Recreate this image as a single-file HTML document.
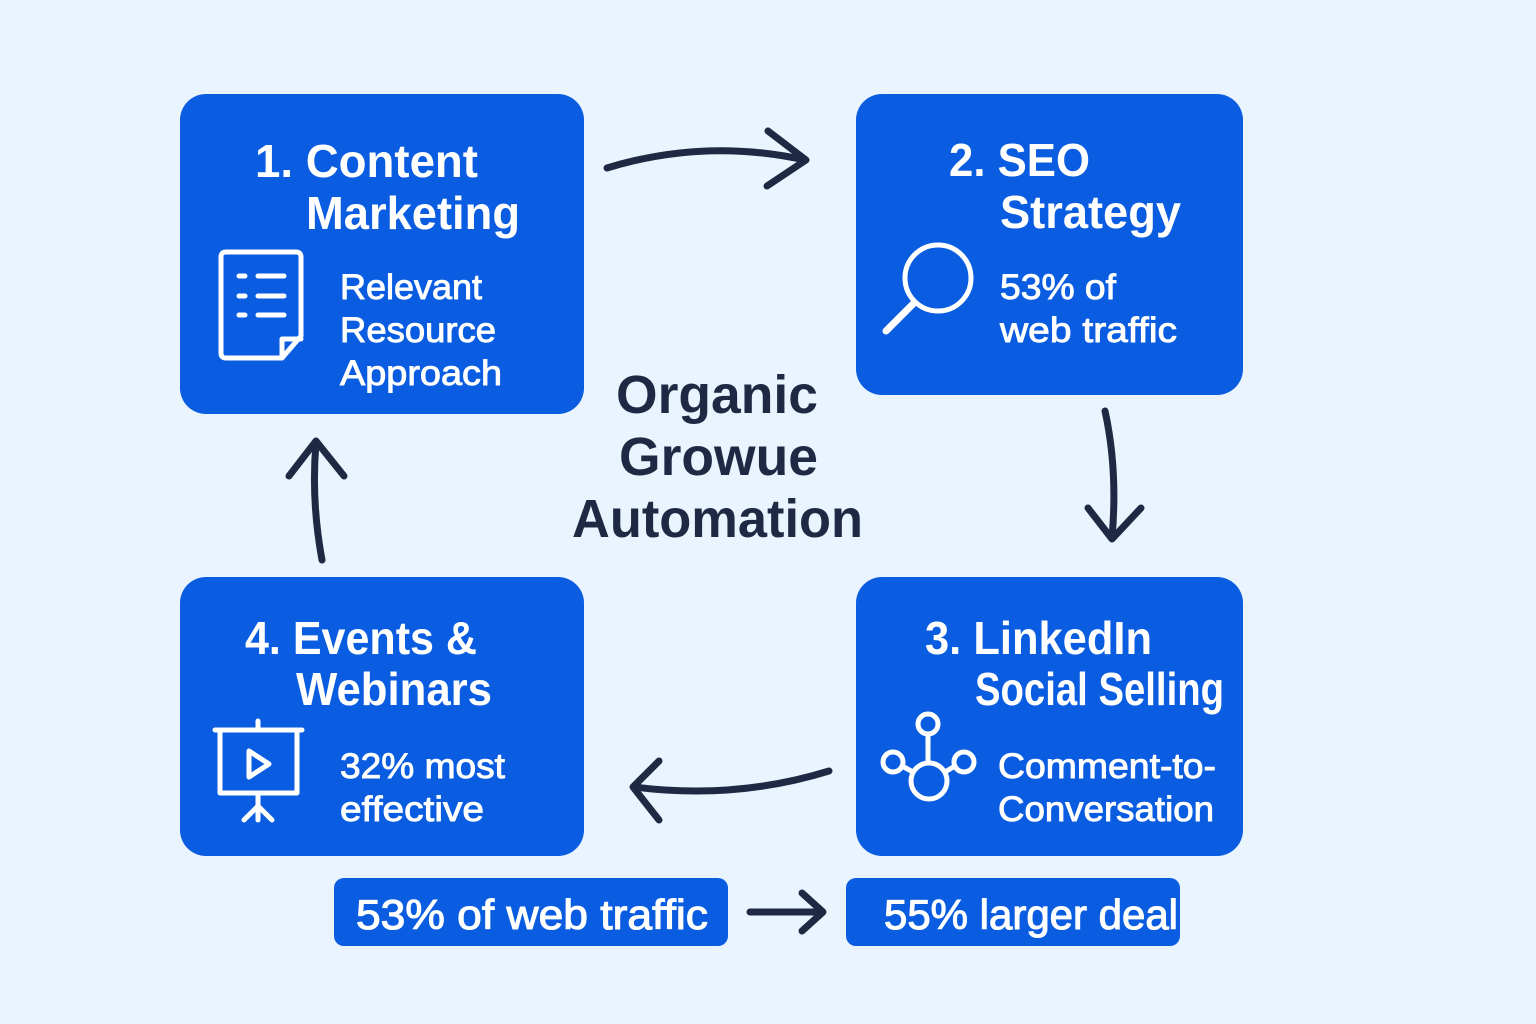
<!DOCTYPE html>
<html><head><meta charset="utf-8"><style>
html,body{margin:0;padding:0;background:#EAF4FE;}
svg{display:block}
text{font-family:"Liberation Sans","DejaVu Sans",sans-serif;}
</style></head><body>
<svg width="1536" height="1024" viewBox="0 0 1536 1024" xmlns="http://www.w3.org/2000/svg">
<rect width="1536" height="1024" fill="#EAF4FE"/>
<g fill="#0A5CE0">
<rect x="180" y="94" width="404" height="320" rx="26"/>
<rect x="856" y="94" width="387" height="301" rx="26"/>
<rect x="856" y="577" width="387" height="279" rx="26"/>
<rect x="180" y="577" width="404" height="279" rx="26"/>
<rect x="334" y="878" width="394" height="68" rx="10"/>
<rect x="846" y="878" width="334" height="68" rx="10"/>
</g>
<g fill="#fff" font-weight="bold" font-size="46">
<text x="255" y="177" textLength="223" lengthAdjust="spacingAndGlyphs">1. Content</text>
<text x="306" y="229" textLength="214" lengthAdjust="spacingAndGlyphs">Marketing</text>
<text x="949" y="176" textLength="141" lengthAdjust="spacingAndGlyphs">2. SEO</text>
<text x="1000" y="228" textLength="181" lengthAdjust="spacingAndGlyphs">Strategy</text>
<text x="925" y="654" textLength="227" lengthAdjust="spacingAndGlyphs">3. LinkedIn</text>
<text x="975" y="705" textLength="249" lengthAdjust="spacingAndGlyphs">Social Selling</text>
<text x="245" y="654" textLength="232" lengthAdjust="spacingAndGlyphs">4. Events &amp;</text>
<text x="296" y="705" textLength="196" lengthAdjust="spacingAndGlyphs">Webinars</text>
</g>
<g fill="#fff" font-size="35" stroke="#fff" stroke-width="0.9">
<text x="340" y="299" textLength="142" lengthAdjust="spacingAndGlyphs">Relevant</text>
<text x="340" y="342" textLength="156" lengthAdjust="spacingAndGlyphs">Resource</text>
<text x="340" y="385" textLength="162" lengthAdjust="spacingAndGlyphs">Approach</text>
<text x="1000" y="299" textLength="116" lengthAdjust="spacingAndGlyphs">53% of</text>
<text x="1000" y="342" textLength="177" lengthAdjust="spacingAndGlyphs">web traffic</text>
<text x="998" y="778" textLength="218" lengthAdjust="spacingAndGlyphs">Comment-to-</text>
<text x="998" y="821" textLength="216" lengthAdjust="spacingAndGlyphs">Conversation</text>
<text x="340" y="778" textLength="165" lengthAdjust="spacingAndGlyphs">32% most</text>
<text x="340" y="821" textLength="144" lengthAdjust="spacingAndGlyphs">effective</text>
</g>
<g fill="#fff" font-size="42" stroke="#fff" stroke-width="1.1">
<text x="356" y="929" textLength="352" lengthAdjust="spacingAndGlyphs">53% of web traffic</text>
<text x="884" y="929" textLength="294" lengthAdjust="spacingAndGlyphs">55% larger deal</text>
</g>
<g fill="#1E2A44" font-weight="bold" font-size="54">
<text x="616" y="413" textLength="202" lengthAdjust="spacingAndGlyphs">Organic</text>
<text x="619" y="475" textLength="199" lengthAdjust="spacingAndGlyphs">Growue</text>
<text x="572" y="537" textLength="291" lengthAdjust="spacingAndGlyphs">Automation</text>
</g>
<g fill="none" stroke="#fff" stroke-width="5" stroke-linecap="round" stroke-linejoin="round">
<path d="M226 252 H296 Q301 252 301 257 V336 L282 358 H226 Q221 358 221 353 V257 Q221 252 226 252 Z"/>
<path d="M282 358 V339 H301"/>
<path d="M239 276h6M258 276h26M239 296h6M258 296h26M239 315h6M258 315h26"/>
<circle cx="938" cy="278" r="33"/>
<path d="M913 304 L886 331" stroke-width="7"/>
<circle cx="928" cy="724" r="10"/>
<path d="M928 734 V762"/>
<circle cx="929" cy="781" r="18"/>
<circle cx="893" cy="762" r="10"/>
<circle cx="964" cy="762" r="10"/>
<path d="M902 766 L913 772 M955 766 L945 772"/>
<path d="M215 730 H302 M258 721 V730"/>
<rect x="220" y="730" width="77" height="63"/>
<path d="M249 751 L269 764 L249 777 Z"/>
<path d="M258 793 V820 M258 806 L244 820 M258 806 L272 820"/>
</g>
<g fill="none" stroke="#1E2A44" stroke-width="7" stroke-linecap="round" stroke-linejoin="round">
<path d="M607 168 Q705 138 805 160"/>
<path d="M768 131 L806 160 L767 186"/>
<path d="M1105 411 Q1118 470 1112 538"/>
<path d="M1088 508 L1112 539 L1141 508"/>
<path d="M829 771 Q735 800 634 787"/>
<path d="M659 761 L633 787 L659 820"/>
<path d="M322 560 Q311 500 316 443"/>
<path d="M289 476 L316 441 L344 476"/>
<path d="M750 912 H822"/>
<path d="M802 893 L823 912 L802 931"/>
</g>
</svg>
</body></html>
